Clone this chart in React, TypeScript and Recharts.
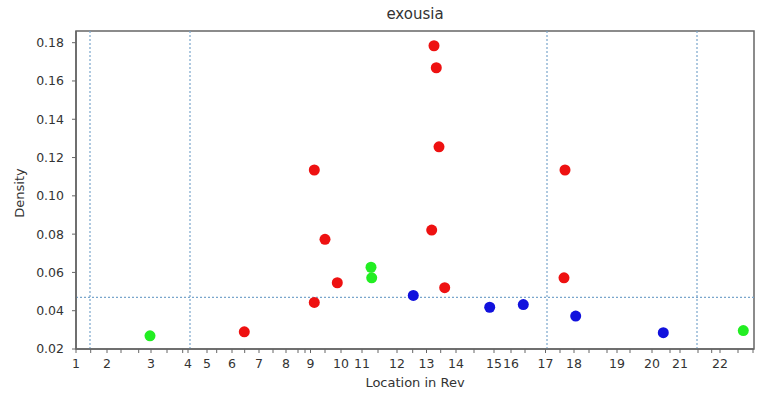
import React from 'react';
import {
  ScatterChart,
  Scatter,
  XAxis,
  YAxis,
  ReferenceLine,
  ReferenceArea,
} from 'recharts';

// Location units along Revelation (arbitrary index scale)
const X_MAX = 678;
const Y_MIN = 0.02;
const Y_MAX = 0.1861;

const chapterLabels = ['1','2','3','4','5','6','7','8','9','10','11','12','13','14','15','16','17','18','19','20','21','22'];
const chapterStarts = [0, 31, 75, 112, 131, 156, 183, 210, 234.5, 265, 286, 321, 350.5, 380, 418, 435, 469.5, 498, 541, 576, 604, 644];
const minorTicks = [14.7, 45, 62.7, 91, 106.7, 140.7, 168.7, 197, 222, 229, 249, 302, 336.7, 364.7, 398, 449, 484, 513, 531, 554, 594, 622, 635.7, 662, 677];

const yTicks = [0.02, 0.04, 0.06, 0.08, 0.1, 0.12, 0.14, 0.16, 0.18];

const verticalMarks = [14, 114, 471, 621];
const meanDensity = 0.047;

const redX = [168.3, 238.3, 238.3, 249, 261.3, 358, 360.3, 363, 355.7, 368.7, 489, 488];
const redY = [0.029, 0.1135, 0.0443, 0.0773, 0.0546, 0.1784, 0.1669, 0.1256, 0.0821, 0.052, 0.1135, 0.0572];
const greenX = [74, 295, 295.7, 667.3];
const greenY = [0.0269, 0.0627, 0.0572, 0.0296];
const blueX = [337.3, 413.7, 447.3, 499.7, 587.3];
const blueY = [0.048, 0.0418, 0.0432, 0.0372, 0.0285];

const toPoints = (xs: number[], ys: number[]) => xs.map((x, i) => ({ x, y: ys[i] }));
const redData = toPoints(redX, redY);
const greenData = toPoints(greenX, greenY);
const blueData = toPoints(blueX, blueY);

const allXTicks = [...chapterStarts, ...minorTicks].sort((a, b) => a - b);

const FONT = '"DejaVu Sans", sans-serif';
const TEXT = '#333';
const FRAME = '#666';
const DOT_LINE = '#7aa6cc';

const XTick = (props: any) => {
  const { x, y, payload } = props;
  const idx = chapterStarts.indexOf(payload.value);
  if (idx < 0) return <g />;
  return (
    <text x={x} y={y} dy="0.71em" textAnchor="middle" fill={TEXT} fontSize={12.5} fontFamily={FONT}>
      {chapterLabels[idx]}
    </text>
  );
};

const dot = (color: string) => (props: any) => (
  <circle cx={props.cx} cy={props.cy} r={5.5} fill={color} />
);

export default function App() {
  return (
    <div style={{ position: 'absolute', left: 0, top: 0, width: 759, height: 394, background: '#fff' }}>
      <ScatterChart width={759} height={394} margin={{ top: 31, right: 5, bottom: 0, left: 0 }}>
        <XAxis
          dataKey="x"
          type="number"
          domain={[0, X_MAX]}
          ticks={allXTicks}
          interval={0}
          tick={<XTick />}
          tickSize={4}
          tickMargin={6}
          height={45}
          axisLine={{ stroke: FRAME, strokeWidth: 1.5 }}
          tickLine={{ stroke: FRAME }}
          allowDataOverflow
        />
        <YAxis
          dataKey="y"
          type="number"
          domain={[Y_MIN, Y_MAX]}
          ticks={yTicks}
          interval={0}
          tickFormatter={(v: number) => v.toFixed(2)}
          width={76}
          tickSize={4}
          tickMargin={8}
          tick={{ fill: TEXT, fontSize: 12.5, fontFamily: FONT }}
          axisLine={{ stroke: FRAME, strokeWidth: 1.5 }}
          tickLine={{ stroke: FRAME }}
          allowDataOverflow
        />
        <ReferenceArea x1={0} x2={X_MAX} y1={Y_MIN} y2={Y_MAX} fill="none" stroke={FRAME} strokeWidth={1.5} />
        {verticalMarks.map((v) => (
          <ReferenceLine key={v} x={v} stroke={DOT_LINE} strokeDasharray="2 2" strokeWidth={1.2} />
        ))}
        <ReferenceLine y={meanDensity} stroke={DOT_LINE} strokeDasharray="2 2" strokeWidth={1.2} />
        <Scatter data={redData} fill="#ee1111" shape={dot('#ee1111')} isAnimationActive={false} />
        <Scatter data={greenData} fill="#22ee22" shape={dot('#22ee22')} isAnimationActive={false} />
        <Scatter data={blueData} fill="#1111dd" shape={dot('#1111dd')} isAnimationActive={false} />
      </ScatterChart>
      <div style={{ position: 'absolute', left: 0, width: 830, top: 5, textAlign: 'center', fontFamily: FONT, fontSize: 15, color: TEXT, lineHeight: '18px' }}>
        exousia
      </div>
      <div style={{ position: 'absolute', left: 0, width: 830, top: 375, textAlign: 'center', fontFamily: FONT, fontSize: 13, color: TEXT, lineHeight: '16px' }}>
        Location in Rev
      </div>
      <div style={{ position: 'absolute', left: 20, top: 193, width: 0, height: 0 }}>
        <div style={{ position: 'absolute', left: -60, top: -8, width: 120, textAlign: 'center', transform: 'rotate(-90deg)', fontFamily: FONT, fontSize: 13, color: TEXT, lineHeight: '16px' }}>
          Density
        </div>
      </div>
    </div>
  );
}
